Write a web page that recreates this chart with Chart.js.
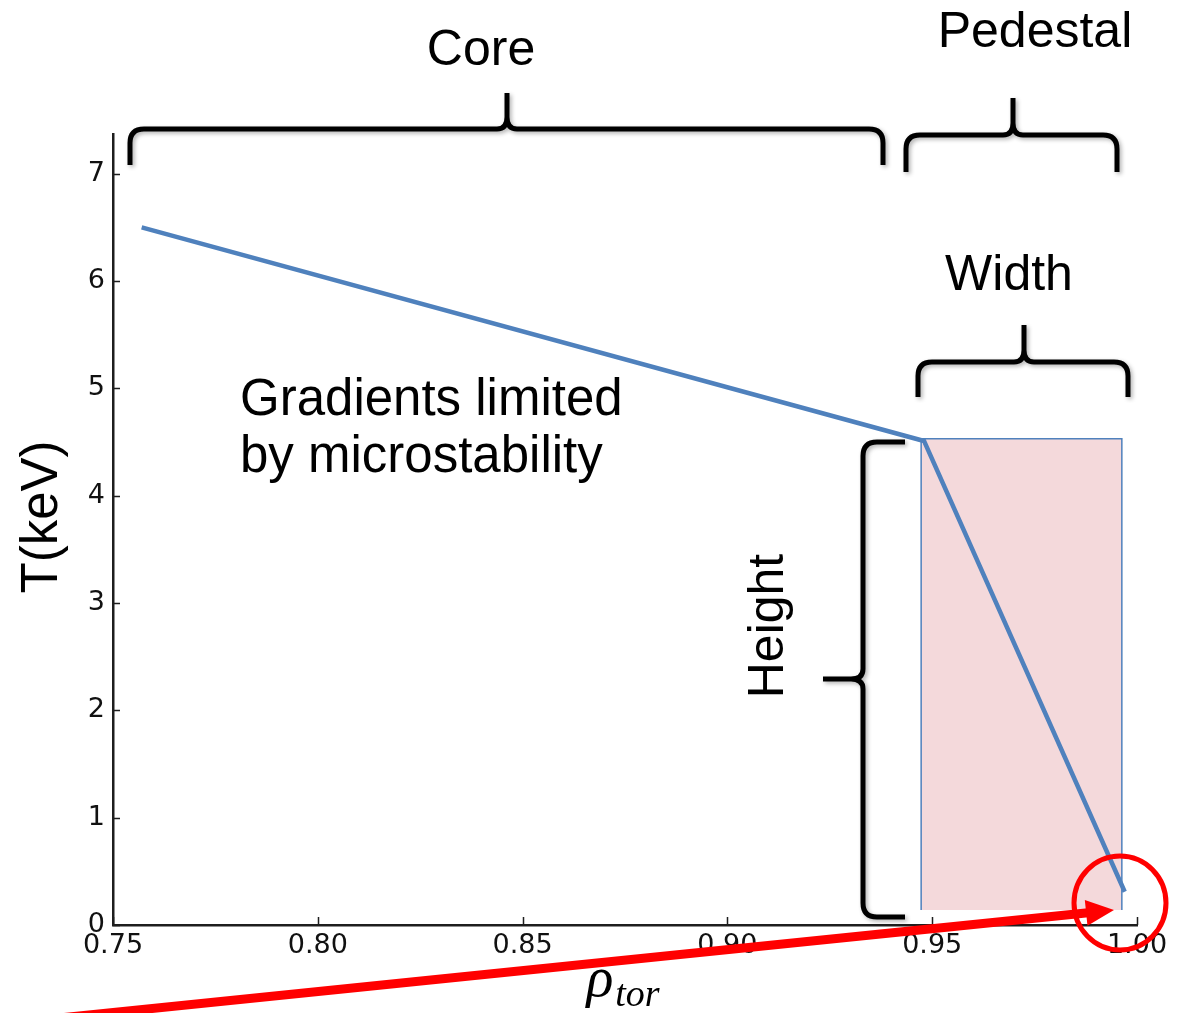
<!DOCTYPE html>
<html>
<head>
<meta charset="utf-8">
<script src="https://cdn.jsdelivr.net/npm/chart.js@4.4.1/dist/chart.umd.min.js"></script>
<style>
  html, body { margin: 0; padding: 0; background: #fff; }
  #wrap { width: 1184px; height: 1013px; position: relative; }
</style>
</head>
<body>
<div id="wrap"><canvas id="profileChart"></canvas></div>
<script>
// temperature profile: rho_tor vs T (keV)
const rhoProfile = [0.757, 0.948, 0.997];
const tempProfile = [6.50, 4.51, 0.31];

// pedestal region (shaded box)
const pedestalRho = [0.9473, 0.9963];
const pedestalTemp = [0.14, 4.53];

const xTicks = [0.75, 0.80, 0.85, 0.90, 0.95, 1.00];
const yTicks = [0, 1, 2, 3, 4, 5, 6, 7];

const LINE_BLUE = '#4f81bd';
const AXIS_COLOR = '#1e1e1e';
const LABEL_FONT = '50px "Liberation Sans", Arial, sans-serif';

// shaded pedestal box, drawn under the profile line
const pedestalBox = {
    id: 'pedestalBox',
    beforeDatasetsDraw(chart) {
        const { ctx, scales: { x, y } } = chart;
        const x0 = x.getPixelForValue(pedestalRho[0]);
        const x1 = x.getPixelForValue(pedestalRho[1]);
        const yTop = y.getPixelForValue(pedestalTemp[1]);
        const yBot = y.getPixelForValue(pedestalTemp[0]);
        ctx.save();
        ctx.fillStyle = 'rgb(244, 217, 219)';
        ctx.fillRect(x0, yTop, x1 - x0, yBot - yTop);
        ctx.strokeStyle = LINE_BLUE;
        ctx.lineWidth = 1.5;
        ctx.beginPath();
        ctx.moveTo(x0, yBot);
        ctx.lineTo(x0, yTop);
        ctx.lineTo(x1, yTop);
        ctx.lineTo(x1, yBot);
        ctx.stroke();
        ctx.restore();
    }
};

// matplotlib-style ticks pointing into the plot
const inwardTicks = {
    id: 'inwardTicks',
    afterDraw(chart) {
        const { ctx, chartArea, scales: { x, y } } = chart;
        ctx.save();
        ctx.strokeStyle = AXIS_COLOR;
        ctx.lineWidth = 1.5;
        ctx.beginPath();
        xTicks.forEach(v => {
            const px = Math.round(x.getPixelForValue(v)) + 0.5;
            ctx.moveTo(px, chartArea.bottom);
            ctx.lineTo(px, chartArea.bottom - 8);
        });
        yTicks.forEach(v => {
            const py = Math.round(y.getPixelForValue(v)) + 0.5;
            ctx.moveTo(chartArea.left, py);
            ctx.lineTo(chartArea.left + 7, py);
        });
        ctx.stroke();
        ctx.restore();
    }
};

function hBrace(ctx, x0, x1, xm, yBar, yArm, yTip) {
    const r = 14;
    ctx.beginPath();
    ctx.moveTo(x0, yArm);
    ctx.lineTo(x0, yBar + r);
    ctx.quadraticCurveTo(x0, yBar, x0 + r, yBar);
    ctx.lineTo(xm - 10, yBar);
    ctx.quadraticCurveTo(xm, yBar, xm, yBar - 12);
    ctx.lineTo(xm, yTip);
    ctx.moveTo(xm, yBar - 12);
    ctx.quadraticCurveTo(xm, yBar, xm + 10, yBar);
    ctx.lineTo(x1 - r, yBar);
    ctx.quadraticCurveTo(x1, yBar, x1, yBar + r);
    ctx.lineTo(x1, yArm);
    ctx.stroke();
}

function vBrace(ctx, xBar, y0, y1, ym, xArm, xTip) {
    const r = 14;
    ctx.beginPath();
    ctx.moveTo(xArm, y0);
    ctx.lineTo(xBar + r, y0);
    ctx.quadraticCurveTo(xBar, y0, xBar, y0 + r);
    ctx.lineTo(xBar, ym - 10);
    ctx.quadraticCurveTo(xBar, ym, xBar - 12, ym);
    ctx.lineTo(xTip, ym);
    ctx.moveTo(xBar - 12, ym);
    ctx.quadraticCurveTo(xBar, ym, xBar, ym + 10);
    ctx.lineTo(xBar, y1 - r);
    ctx.quadraticCurveTo(xBar, y1, xBar + r, y1);
    ctx.lineTo(xArm, y1);
    ctx.stroke();
}

// braces, labels, axis titles and the red pointer
const annotations = {
    id: 'annotations',
    afterDraw(chart) {
        const { ctx } = chart;
        ctx.save();

        // braces
        ctx.save();
        ctx.strokeStyle = '#000';
        ctx.lineWidth = 5;
        ctx.lineJoin = 'round';
        ctx.shadowColor = 'rgba(0,0,0,0.3)';
        ctx.shadowBlur = 4;
        ctx.shadowOffsetX = 2;
        ctx.shadowOffsetY = 2;
        hBrace(ctx, 130, 883, 507, 129, 165, 93);
        hBrace(ctx, 906, 1117, 1013, 135, 172, 98);
        hBrace(ctx, 918, 1128, 1024, 362, 397, 325);
        vBrace(ctx, 863, 442, 917, 679, 905, 823);
        ctx.restore();

        // text labels
        ctx.fillStyle = '#000';
        ctx.font = LABEL_FONT;
        ctx.textBaseline = 'alphabetic';
        ctx.textAlign = 'center';
        ctx.fillText('Core', 481, 65);
        ctx.fillText('Pedestal', 1035, 47);
        ctx.fillText('Width', 1009, 290);
        ctx.textAlign = 'left';
        ctx.font = '51px "Liberation Sans", Arial, sans-serif';
        ctx.fillText('Gradients limited', 240, 415);
        ctx.fillText('by microstability', 240, 472);

        ctx.font = LABEL_FONT;
        ctx.save();
        ctx.translate(783, 626);
        ctx.rotate(-Math.PI / 2);
        ctx.textAlign = 'center';
        ctx.fillText('Height', 0, 0);
        ctx.restore();

        // y axis title
        ctx.save();
        ctx.translate(57, 517);
        ctx.rotate(-Math.PI / 2);
        ctx.textAlign = 'center';
        ctx.font = '51px "Liberation Sans", Arial, sans-serif';
        ctx.fillText('T(keV)', 0, 0);
        ctx.restore();

        // x axis title: rho with subscript "tor"
        ctx.textAlign = 'left';
        const rhoFont = 'italic 56px "Liberation Serif", serif';
        const subFont = 'italic 38px "Liberation Serif", serif';
        ctx.font = rhoFont;
        const wRho = ctx.measureText('ρ').width;
        ctx.font = subFont;
        const wSub = ctx.measureText('tor').width;
        const startX = 623 - (wRho + wSub + 2) / 2;
        ctx.font = rhoFont;
        ctx.fillText('ρ', startX, 996);
        ctx.font = subFont;
        ctx.fillText('tor', startX + wRho + 2, 1006);

        // red pointer arrow
        const tail = [30, 1021], tip = [1114, 910];
        const dx = tip[0] - tail[0], dy = tip[1] - tail[1];
        const len = Math.hypot(dx, dy);
        const ux = dx / len, uy = dy / len;
        const headLen = 28, headHalf = 13;
        const bx = tip[0] - ux * headLen, by = tip[1] - uy * headLen;
        ctx.strokeStyle = '#ff0000';
        ctx.fillStyle = '#ff0000';
        ctx.lineWidth = 9;
        ctx.beginPath();
        ctx.moveTo(tail[0], tail[1]);
        ctx.lineTo(bx + ux * 2, by + uy * 2);
        ctx.stroke();
        ctx.beginPath();
        ctx.moveTo(tip[0], tip[1]);
        ctx.lineTo(bx - uy * headHalf, by + ux * headHalf);
        ctx.lineTo(bx + uy * headHalf, by - ux * headHalf);
        ctx.closePath();
        ctx.fill();

        // red circle around the separatrix end
        ctx.lineWidth = 5;
        ctx.beginPath();
        ctx.ellipse(1120, 903, 46, 47, 0, 0, Math.PI * 2);
        ctx.stroke();

        ctx.restore();
    }
};

new Chart(document.getElementById('profileChart'), {
    type: 'line',
    data: {
        datasets: [{
            data: rhoProfile.map((r, i) => ({ x: r, y: tempProfile[i] })),
            borderColor: LINE_BLUE,
            borderWidth: 4.5,
            pointRadius: 0,
            tension: 0,
            fill: false
        }]
    },
    options: {
        responsive: true,
        maintainAspectRatio: false,
        animation: false,
        layout: { padding: { top: 134, right: 47, left: 0, bottom: 0 } },
        plugins: {
            legend: { display: false },
            tooltip: { enabled: false }
        },
        scales: {
            x: {
                type: 'linear',
                min: 0.75,
                max: 1.0,
                afterBuildTicks: scale => { scale.ticks = xTicks.map(v => ({ value: v })); },
                afterFit: scale => { scale.height = 88; },
                grid: { display: false, drawTicks: false },
                border: { display: true, color: AXIS_COLOR, width: 2.5 },
                ticks: {
                    font: { family: 'DejaVu Sans', size: 27 },
                    color: '#111',
                    padding: 5,
                    maxRotation: 0,
                    autoSkip: false,
                    callback: v => v.toFixed(2)
                }
            },
            y: {
                type: 'linear',
                min: 0,
                max: 7.37,
                afterBuildTicks: scale => { scale.ticks = yTicks.map(v => ({ value: v })); },
                afterFit: scale => { scale.width = 113; },
                grid: { display: false, drawTicks: false },
                border: { display: true, color: AXIS_COLOR, width: 2.5 },
                ticks: {
                    font: { family: 'DejaVu Sans', size: 27 },
                    color: '#111',
                    padding: 8,
                    autoSkip: false,
                    callback: v => String(v)
                }
            }
        }
    },
    plugins: [pedestalBox, inwardTicks, annotations]
});
</script>
</body>
</html>
